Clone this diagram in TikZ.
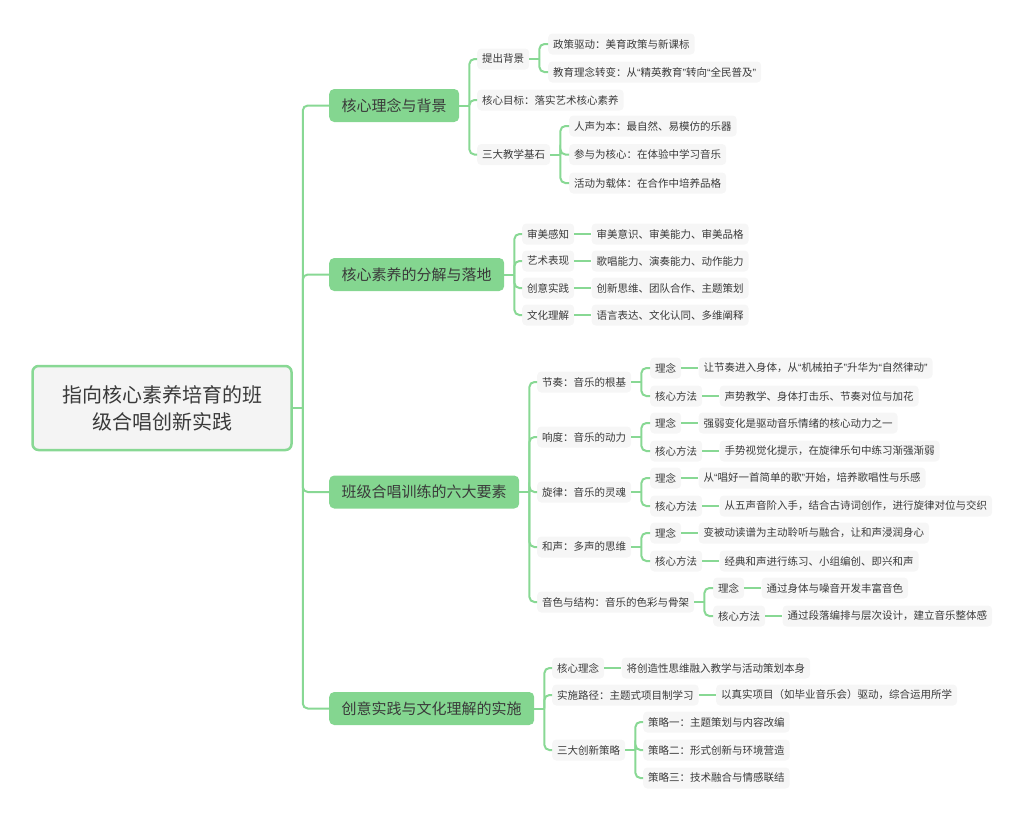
\documentclass[tikz,border=0pt]{standalone}
\usepackage{fontspec}
\setmainfont{Noto Sans CJK SC}
\newfontfamily\qfont{Liberation Sans}
\newcommand\qo{{\qfont\char"201C}}
\newcommand\qc{{\qfont\char"201D}}
\usetikzlibrary{positioning,calc}
\definecolor{lineg}{HTML}{88D894}
\definecolor{boxg}{HTML}{84D690}
\definecolor{leafbg}{HTML}{F6F6F6}
\definecolor{rootbg}{HTML}{F4F4F4}
\definecolor{txt}{HTML}{3A3A3A}
\tikzset{
  link/.style={draw=lineg,line width=2pt,rounded corners=5pt},
  root/.style={draw=lineg,line width=2.5pt,fill=rootbg,rounded corners=6pt,minimum width=259pt,minimum height=84pt,align=center,text=txt,font=\fontsize{20}{27}\selectfont},
  branch/.style={fill=boxg,rounded corners=5pt,anchor=west,inner xsep=12.5pt,inner ysep=0pt,minimum height=33pt,text=txt,font=\fontsize{15}{18}\selectfont},
  sub/.style={fill=leafbg,rounded corners=4pt,anchor=west,inner xsep=5pt,inner ysep=0pt,minimum height=21pt,text=txt,font=\fontsize{10.5}{12}\selectfont},
}
\begin{document}
\begin{tikzpicture}[x=1pt,y=-1pt,node distance=17pt]
\useasboundingbox (0,0) rectangle (1024,822);

% root and main branches
\node[root] at (162,408) (r) {指向核心素养培育的班\\级合唱创新实践};
\coordinate (j0) at ([xshift=10pt]r.east);
\node[branch] at (329,105.5) (b1) {核心理念与背景};
\node[branch] at (329,274.5) (b2) {核心素养的分解与落地};
\node[branch] at (329,492) (b3) {班级合唱训练的六大要素};
\node[branch] at (329,708.5) (b4) {创意实践与文化理解的实施};

\draw[link] (r.east) -- (j0);
\foreach \b in {b1,b2,b3,b4}
  \draw[link] (j0) |- (\b.west);

% branch 1
\coordinate (j1) at ([xshift=10pt]b1.east);
\node[sub] at (477,59) (c11) {提出背景};
\node[sub] at (477,100) (c12) {核心目标：落实艺术核心素养};
\node[sub] at (477,154.5) (c13) {三大教学基石};
\coordinate (j11) at ([xshift=10pt]c11.east);
\node[sub] at (548,44) (c111) {政策驱动：美育政策与新课标};
\node[sub] at (548,72) (c112) {教育理念转变：从\qo 精英教育\qc 转向\qo 全民普及\qc};
\coordinate (j13) at ([xshift=10pt]c13.east);
\node[sub] at (569,126) (c131) {人声为本：最自然、易模仿的乐器};
\node[sub] at (569,154.5) (c132) {参与为核心：在体验中学习音乐};
\node[sub] at (569,183) (c133) {活动为载体：在合作中培养品格};

\draw[link] (b1.east) -- (j1);
\foreach \c in {c11,c12,c13}
  \draw[link] (j1) |- (\c.west);
\draw[link] (c11.east) -- (j11);
\foreach \c in {c111,c112}
  \draw[link] (j11) |- (\c.west);
\draw[link] (c13.east) -- (j13);
\foreach \c in {c131,c132,c133}
  \draw[link] (j13) |- (\c.west);

% branch 2
\coordinate (j2) at ([xshift=10pt]b2.east);
\node[sub] at (522,234) (c21) {审美感知};
\node[sub] at (522,261) (c22) {艺术表现};
\node[sub] at (522,288) (c23) {创意实践};
\node[sub] at (522,315) (c24) {文化理解};
\node[sub,right=of c21] (c21a) {审美意识、审美能力、审美品格};
\node[sub,right=of c22] (c22a) {歌唱能力、演奏能力、动作能力};
\node[sub,right=of c23] (c23a) {创新思维、团队合作、主题策划};
\node[sub,right=of c24] (c24a) {语言表达、文化认同、多维阐释};

\draw[link] (b2.east) -- (j2);
\foreach \c in {c21,c22,c23,c24}{
  \draw[link] (j2) |- (\c.west);
  \draw[link] (\c) -- (\c a);
}

% branch 3
\coordinate (j3) at ([xshift=10pt]b3.east);
\node[sub] at (537,382) (c31) {节奏：音乐的根基};
\node[sub] at (537,437) (c32) {响度：音乐的动力};
\node[sub] at (537,492) (c33) {旋律：音乐的灵魂};
\node[sub] at (537,547) (c34) {和声：多声的思维};
\node[sub] at (537,602) (c35) {音色与结构：音乐的色彩与骨架};

\node[sub] at (650,368) (c31x) {理念};
\node[sub] at (650,396) (c31y) {核心方法};
\node[sub,right=of c31x] (c31xa) {让节奏进入身体，从\qo 机械拍子\qc 升华为\qo 自然律动\qc};
\node[sub,right=of c31y] (c31ya) {声势教学、身体打击乐、节奏对位与加花};
\node[sub] at (650,423) (c32x) {理念};
\node[sub] at (650,451) (c32y) {核心方法};
\node[sub,right=of c32x] (c32xa) {强弱变化是驱动音乐情绪的核心动力之一};
\node[sub,right=of c32y] (c32ya) {手势视觉化提示，在旋律乐句中练习渐强渐弱};
\node[sub] at (650,478) (c33x) {理念};
\node[sub] at (650,506) (c33y) {核心方法};
\node[sub,right=of c33x] (c33xa) {从\qo 唱好一首简单的歌\qc 开始，培养歌唱性与乐感};
\node[sub,right=of c33y] (c33ya) {从五声音阶入手，结合古诗词创作，进行旋律对位与交织};
\node[sub] at (650,533) (c34x) {理念};
\node[sub] at (650,561) (c34y) {核心方法};
\node[sub,right=of c34x] (c34xa) {变被动读谱为主动聆听与融合，让和声浸润身心};
\node[sub,right=of c34y] (c34ya) {经典和声进行练习、小组编创、即兴和声};
\node[sub] at (713,588) (c35x) {理念};
\node[sub] at (713,616) (c35y) {核心方法};
\node[sub,right=of c35x] (c35xa) {通过身体与噪音开发丰富音色};
\node[sub,right=of c35y] (c35ya) {通过段落编排与层次设计，建立音乐整体感};

\draw[link] (b3.east) -- (j3);
\foreach \c in {c31,c32,c33,c34,c35}{
  \draw[link] (j3) |- (\c.west);
  \coordinate (\c j) at ([xshift=10pt]\c.east);
  \draw[link] (\c.east) -- (\c j);
  \draw[link] (\c j) |- (\c x.west);
  \draw[link] (\c j) |- (\c y.west);
  \draw[link] (\c x) -- (\c xa);
  \draw[link] (\c y) -- (\c ya);
}

% branch 4
\coordinate (j4) at ([xshift=10pt]b4.east);
\node[sub] at (552,668) (c41) {核心理念};
\node[sub] at (552,695) (c42) {实施路径：主题式项目制学习};
\node[sub] at (552,750) (c43) {三大创新策略};
\node[sub,right=of c41] (c41a) {将创造性思维融入教学与活动策划本身};
\node[sub,right=of c42] (c42a) {以真实项目（如毕业音乐会）驱动，综合运用所学};
\coordinate (j43) at ([xshift=10pt]c43.east);
\node[sub] at (643,722) (c431) {策略一：主题策划与内容改编};
\node[sub] at (643,750) (c432) {策略二：形式创新与环境营造};
\node[sub] at (643,778) (c433) {策略三：技术融合与情感联结};

\draw[link] (b4.east) -- (j4);
\foreach \c in {c41,c42,c43}
  \draw[link] (j4) |- (\c.west);
\draw[link] (c41) -- (c41a);
\draw[link] (c42) -- (c42a);
\draw[link] (c43.east) -- (j43);
\foreach \c in {c431,c432,c433}
  \draw[link] (j43) |- (\c.west);
\end{tikzpicture}
\end{document}
